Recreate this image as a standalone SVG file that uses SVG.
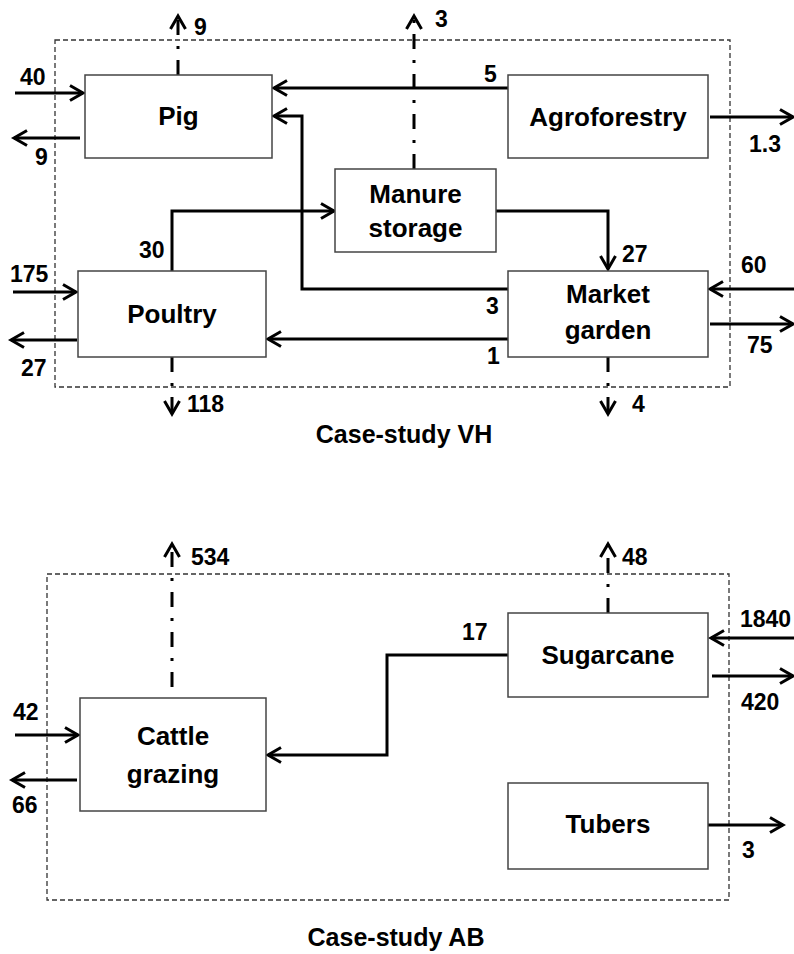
<svg xmlns="http://www.w3.org/2000/svg" width="794" height="954" viewBox="0 0 794 954">
<defs>
<marker id="arr" markerUnits="userSpaceOnUse" markerWidth="20" markerHeight="20" viewBox="0 0 20 20" refX="15" refY="10" orient="auto">
<path d="M2,2.5 L15,10 L2,17.5" fill="none" stroke="#000" stroke-width="3"/>
</marker>
</defs>
<style>
.frame{fill:none;stroke:#333;stroke-width:1.3;stroke-dasharray:5 3}
.box{fill:#fff;stroke:#444;stroke-width:1.5}
.lbl{font-family:"Liberation Sans",Arial,sans-serif;font-weight:bold;font-size:26px;fill:#000;text-anchor:middle}
.cap{font-family:"Liberation Sans",Arial,sans-serif;font-weight:bold;font-size:25px;fill:#000;text-anchor:middle}
.num{font-family:"Liberation Sans",Arial,sans-serif;font-weight:bold;font-size:23px;fill:#000}
.flow{fill:none;stroke:#000;stroke-width:3;marker-end:url(#arr)}
.dd{fill:none;stroke:#000;stroke-width:3;stroke-dasharray:15 11 3 11;marker-end:url(#arr)}
</style>
<rect width="794" height="954" fill="#fff"/>
<rect class="frame" x="55" y="40" width="675" height="347"/>
<rect class="frame" x="47" y="574" width="682" height="326"/>
<g id="connectors">
<path class="flow" d="M508,88 L274,88"/>
<path class="flow" d="M508,289 L302,289 L302,116 L274,116"/>
<path class="flow" d="M172,271 L172,211 L334,211"/>
<path class="flow" d="M496,211 L608,211 L608,269"/>
<path class="flow" d="M508,339 L268,339"/>
<path class="flow" d="M15,93 L83,93"/>
<path class="flow" d="M80,138 L14,138"/>
<path class="dd" d="M178,75 L178,16"/>
<path class="dd" d="M414,169 L414,16"/>
<path class="flow" d="M710,117 L793,117"/>
<path class="flow" d="M13,292 L76,292"/>
<path class="flow" d="M77,340 L11,340"/>
<path class="dd" d="M172,357 L172,414"/>
<path class="flow" d="M794,289 L710,289"/>
<path class="flow" d="M710,324 L793,324"/>
<path class="dd" d="M608,357 L608,414"/>
<path class="flow" d="M508,655 L387,655 L387,755 L268,755"/>
<path class="dd" d="M172,687 L172,544"/>
<path class="dd" d="M608,613 L608,544"/>
<path class="flow" d="M15,735 L78,735"/>
<path class="flow" d="M77,780 L12,780"/>
<path class="flow" d="M794,638 L711,638"/>
<path class="flow" d="M712,676 L793,676"/>
<path class="flow" d="M708,825 L783,825"/>
</g>
<g id="pig"><rect class="box" x="85" y="75" width="187" height="83"/><text class="lbl" x="178.5" y="125">Pig</text></g>
<g id="agroforestry"><rect class="box" x="508" y="75" width="200" height="83"/><text class="lbl" x="608" y="126">Agroforestry</text></g>
<g id="manure-storage"><rect class="box" x="335" y="169" width="161" height="83"/><text class="lbl" x="415.5" y="203">Manure</text><text class="lbl" x="415.5" y="237">storage</text></g>
<g id="poultry"><rect class="box" x="78" y="271" width="188" height="86"/><text class="lbl" x="172" y="323">Poultry</text></g>
<g id="market-garden"><rect class="box" x="508" y="271" width="200" height="86"/><text class="lbl" x="608" y="303">Market</text><text class="lbl" x="608" y="339">garden</text></g>
<g id="cattle-grazing"><rect class="box" x="80" y="698" width="186" height="113"/><text class="lbl" x="173" y="745">Cattle</text><text class="lbl" x="173" y="783">grazing</text></g>
<g id="sugarcane"><rect class="box" x="508" y="613" width="200" height="84"/><text class="lbl" x="608" y="664">Sugarcane</text></g>
<g id="tubers"><rect class="box" x="508" y="783" width="200" height="86"/><text class="lbl" x="608" y="833">Tubers</text></g>
<g id="labels">
<text class="num" x="194" y="35">9</text>
<text class="num" x="20" y="85">40</text>
<text class="num" x="35" y="165">9</text>
<text class="num" x="435" y="27">3</text>
<text class="num" x="484" y="82">5</text>
<text class="num" x="749" y="152">1.3</text>
<text class="num" x="139" y="258">30</text>
<text class="num" x="10" y="282">175</text>
<text class="num" x="21" y="376">27</text>
<text class="num" x="187" y="412">118</text>
<text class="num" x="622" y="262">27</text>
<text class="num" x="741" y="273">60</text>
<text class="num" x="486" y="314">3</text>
<text class="num" x="487" y="364">1</text>
<text class="num" x="747" y="353">75</text>
<text class="num" x="632" y="412">4</text>
<text class="num" x="191" y="565">534</text>
<text class="num" x="13" y="720">42</text>
<text class="num" x="12" y="813">66</text>
<text class="num" x="622" y="565">48</text>
<text class="num" x="462" y="640">17</text>
<text class="num" x="740" y="627">1840</text>
<text class="num" x="741" y="710">420</text>
<text class="num" x="742" y="858">3</text>
</g>
<text class="cap" x="404" y="443">Case-study VH</text>
<text class="cap" x="396" y="946">Case-study AB</text>
</svg>
